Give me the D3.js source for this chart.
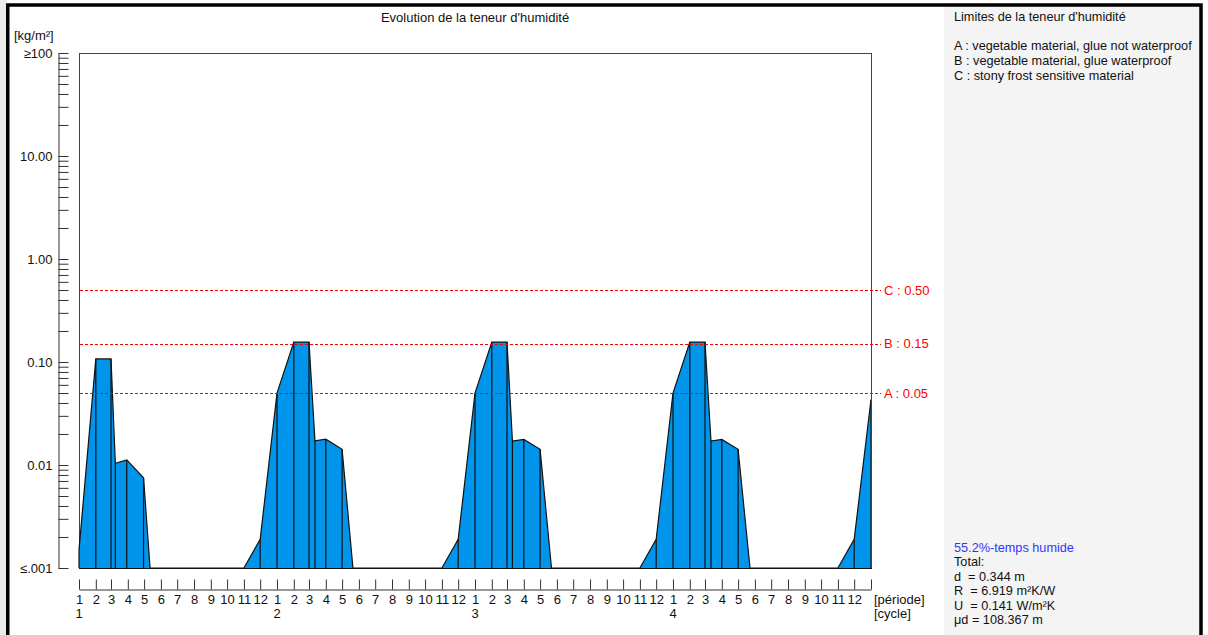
<!DOCTYPE html>
<html>
<head>
<meta charset="utf-8">
<script src="https://cdn.jsdelivr.net/npm/d3@7"></script>
<style>
  body { margin: 0; background: #fff; }
  svg { display: block; font-family: "Liberation Sans", Arial, sans-serif; font-size: 13px; }
  .pre { white-space: pre; }
  .panel { font-size: 12.7px; }
</style>
</head>
<body>
<div id="chart"></div>
<script>
// Data
var cycles = ["1", "2", "3", "4"];
var periods = ["1", "2", "3", "4", "5", "6", "7", "8", "9", "10", "11", "12"];
var monthStart = [0, 31, 59, 90, 120, 151, 181, 212, 243, 273, 304, 334];
var daysPerCycle = 365;

// moisture content [kg/m²] at each vertex (day since start)
var days = [0, 31, 59, 67, 88, 119, 131,
  304, 334, 365, 396, 424, 435, 455, 485, 505,
  669, 699, 730, 761, 789, 799, 820, 850, 871,
  1034, 1064, 1095, 1126, 1154, 1165, 1185, 1215, 1237,
  1399, 1429, 1460];
var moisture = [0.0015, 0.107, 0.107, 0.0104, 0.0112, 0.0075, 0.001,
  0.001, 0.0019, 0.05, 0.156, 0.156, 0.0172, 0.0178, 0.0142, 0.001,
  0.001, 0.0019, 0.05, 0.156, 0.156, 0.0171, 0.0177, 0.0142, 0.001,
  0.001, 0.0019, 0.05, 0.156, 0.156, 0.0171, 0.0177, 0.0142, 0.001,
  0.001, 0.0019, 0.043];

var limitNames = ["A", "B", "C"];
var limitValues = [0.05, 0.15, 0.50];
var limitDescriptions = [
  "A : vegetable material, glue not waterproof",
  "B : vegetable material, glue waterproof",
  "C : stony frost sensitive material"
];

var yMajor = [0.001, 0.01, 0.1, 1, 10, 100];
var yTickLabels = ["≤.001", "0.01", "0.10", "1.00", "10.00", "≥100"];

var summaryLines = ["Total:", "d  = 0.344 m", "R  = 6.919 m²K/W", "U  = 0.141 W/m²K", "μd = 108.367 m"];
var wetTime = "55.2%-temps humide";

// Layout
var W = 1208, H = 635;
var plot = { left: 79, right: 871, top: 53, bottom: 568 };

var svg = d3.select("#chart").append("svg")
  .attr("width", W)
  .attr("height", H);

// background strips and right panel
svg.append("rect").attr("x", 0).attr("y", 0).attr("width", 7).attr("height", H).style("fill", "#ebebeb");
svg.append("rect").attr("x", 944).attr("y", 6).attr("width", 256).attr("height", H).style("fill", "#f4f4f4");

// outer frame
svg.append("rect")
  .attr("x", 7.75).attr("y", 5)
  .attr("width", 1193.25).attr("height", H + 10)
  .style("fill", "none").style("stroke", "#000").style("stroke-width", 3.5);

// scales
var totalDays = daysPerCycle * cycles.length;
var x = d3.scaleLinear().domain([0, totalDays]).range([plot.left, plot.right]);
var y = d3.scaleLog().domain([0.001, 100]).range([plot.bottom, plot.top]);

// title
svg.append("text")
  .attr("x", (plot.left + plot.right) / 2)
  .attr("y", 22)
  .attr("text-anchor", "middle")
  .style("fill", "#111")
  .text("Evolution de la teneur d'humidité");

svg.append("text")
  .attr("x", 14).attr("y", 40)
  .style("fill", "#111")
  .text("[kg/m²]");

// plot frame
svg.append("rect")
  .attr("x", plot.left + 0.5).attr("y", plot.top + 0.5)
  .attr("width", plot.right - plot.left).attr("height", plot.bottom - plot.top)
  .style("fill", "#fff").style("stroke", "#444");

// Y axis (log, ticks pointing right, labels only on decades)
var yTicks = [];
yMajor.forEach(function (d, i) {
  if (i < yMajor.length - 1) {
    for (var k = 1; k < 10; k++) yTicks.push(d * k);
  } else {
    yTicks.push(d);
  }
});
var yAxis = d3.axisLeft(y)
  .tickValues(yTicks)
  .tickSizeInner(-10)
  .tickSizeOuter(0)
  .tickPadding(6)
  .tickFormat(function (d) {
    var i = yMajor.findIndex(function (m) { return Math.abs(m - d) / m < 1e-6; });
    return i >= 0 ? yTickLabels[i] : "";
  });
var gy = svg.append("g")
  .attr("transform", "translate(58.5,0)")
  .call(yAxis);
gy.selectAll("path, line").style("stroke", "#333");
gy.selectAll("text").style("font-size", "13px").style("font-family", "Liberation Sans, Arial, sans-serif").style("fill", "#111");

// X axis (months of each cycle)
var xTicks = [];
var xLabels = [];
cycles.forEach(function (c, ci) {
  monthStart.forEach(function (m, mi) {
    xTicks.push(ci * daysPerCycle + m);
    xLabels.push(periods[mi]);
  });
});
xTicks.push(totalDays);
xLabels.push("");

var xAxis = d3.axisBottom(x)
  .tickValues(xTicks)
  .tickSizeInner(-10)
  .tickSizeOuter(0)
  .tickPadding(5)
  .tickFormat(function (d, i) { return xLabels[i]; });
var gx = svg.append("g")
  .attr("transform", "translate(0,589.5)")
  .call(xAxis);
gx.selectAll("path, line").style("stroke", "#333");
gx.selectAll("text").style("font-size", "13px").style("font-family", "Liberation Sans, Arial, sans-serif").style("fill", "#111");

// cycle labels
svg.selectAll(".cycle")
  .data(cycles)
  .enter()
  .append("text")
  .attr("class", "cycle")
  .attr("x", function (d, i) { return x(i * daysPerCycle); })
  .attr("y", 618)
  .attr("text-anchor", "middle")
  .style("fill", "#111")
  .text(function (d) { return d; });

svg.append("text").attr("x", 874).attr("y", 604).style("fill", "#111").text("[période]");
svg.append("text").attr("x", 874).attr("y", 618).style("fill", "#111").text("[cycle]");

// moisture area
var pts = days.map(function (d, i) { return { day: d, v: Math.max(moisture[i], 0.001) }; });

var area = d3.area()
  .x(function (d) { return x(d.day); })
  .y0(plot.bottom)
  .y1(function (d) { return y(d.v); });

svg.append("path")
  .datum(pts)
  .attr("d", area)
  .style("fill", "#0094ea");

svg.selectAll(".vline")
  .data(pts)
  .enter()
  .append("line")
  .attr("class", "vline")
  .attr("x1", function (d) { return x(d.day); })
  .attr("x2", function (d) { return x(d.day); })
  .attr("y1", plot.bottom)
  .attr("y2", function (d) { return y(d.v); })
  .style("stroke", "#111")
  .style("stroke-width", 1.2);

svg.append("path")
  .datum(pts)
  .attr("d", d3.line().x(function (d) { return x(d.day); }).y(function (d) { return y(d.v); }))
  .style("fill", "none")
  .style("stroke", "#111")
  .style("stroke-width", 1.2);

// baseline and right frame edge over the area
svg.append("line")
  .attr("x1", plot.left).attr("x2", plot.right + 1)
  .attr("y1", plot.bottom + 0.5).attr("y2", plot.bottom + 0.5)
  .style("stroke", "#111");
svg.append("line")
  .attr("x1", plot.right + 0.5).attr("x2", plot.right + 0.5)
  .attr("y1", plot.top).attr("y2", plot.bottom)
  .style("stroke", "#444");

// limit lines
svg.selectAll(".limit")
  .data(limitValues)
  .enter()
  .append("line")
  .attr("class", "limit")
  .attr("x1", plot.left + 1)
  .attr("x2", plot.right + 10)
  .attr("y1", function (d) { return Math.round(y(d)) + 0.5; })
  .attr("y2", function (d) { return Math.round(y(d)) + 0.5; })
  .style("stroke", "#ff0000")
  .style("stroke-dasharray", "3,2");

svg.selectAll(".limitLabel")
  .data(limitValues)
  .enter()
  .append("text")
  .attr("class", "limitLabel")
  .attr("x", 884)
  .attr("y", function (d) { return y(d); })
  .attr("dy", "0.35em")
  .style("fill", "#ff0000")
  .text(function (d, i) { return limitNames[i] + " : " + d.toFixed(2); });

// right panel texts
svg.append("text").attr("class", "panel").attr("x", 954).attr("y", 21).style("fill", "#111").text("Limites de la teneur d'humidité");
svg.selectAll(".desc")
  .data(limitDescriptions)
  .enter()
  .append("text")
  .attr("class", "desc panel")
  .attr("x", 954)
  .attr("y", function (d, i) { return 50 + i * 15; })
  .style("fill", "#111")
  .text(function (d) { return d; });

svg.append("text").attr("class", "panel").attr("x", 954).attr("y", 552).style("fill", "#3333ff").text(wetTime);
svg.selectAll(".summary")
  .data(summaryLines)
  .enter()
  .append("text")
  .attr("class", "summary pre panel")
  .attr("x", 954)
  .attr("y", function (d, i) { return 566 + i * 14.5; })
  .style("fill", "#111")
  .text(function (d) { return d; });
</script>
</body>
</html>
